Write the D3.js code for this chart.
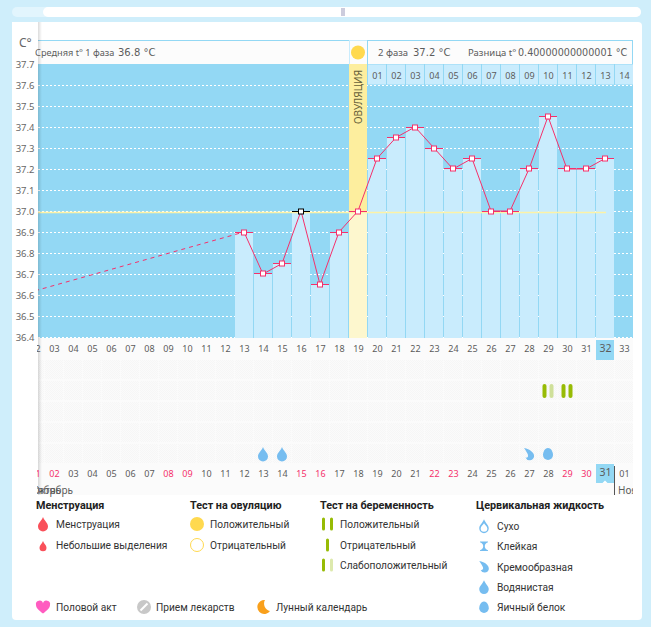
<!DOCTYPE html>
<html>
<head>
<meta charset="utf-8">
<script src="https://cdn.jsdelivr.net/npm/d3@7"></script>
<style>
body { margin: 0; background: #cfeefb; }
svg { display: block; }
text { font-family: "Noto Sans", sans-serif; fill: #5c5c5c; }
.lg text { font-family: Roboto, sans-serif; fill: #333; }
.axis path { display: none; }
.axis line { display: none; }
</style>
</head>
<body>
<div id="chart"></div>
<script>
// cycle days and temperatures
var cycleDays = [13, 14, 15, 16, 17, 18, 19, 20, 21, 22, 23, 24, 25, 26, 27, 28, 29, 30, 31, 32]
var temps = [36.9, 36.7, 36.75, 37.0, 36.65, 36.9, 37.0, 37.25, 37.35, 37.4, 37.3, 37.2, 37.25, 37.0, 37.0, 37.2, 37.45, 37.2, 37.2, 37.25]
var gapDays = [2, 13]
var gapTemps = [36.62, 36.9]
var blackDays = [16]
var ovulationDay = 19

var tempTicks = [37.7, 37.6, 37.5, 37.4, 37.3, 37.2, 37.1, 37.0, 36.9, 36.8, 36.7, 36.6, 36.5, 36.4]
var allDays = d3.range(2, 34)
var todayCycle = 32
var phaseDays = d3.range(20, 34)   // second phase, numbered from 01
var dateLabels = ["01", "02", "03", "04", "05", "06", "07", "08", "09", "10", "11", "12", "13", "14", "15", "16", "17", "18", "19", "20", "21", "22", "23", "24", "25", "26", "27", "28", "29", "30", "31", "01"]
var weekendDates = [0, 1, 7, 8, 14, 15, 21, 22, 28, 29]

// marks in the lower grid
var pregnancyDays = [29, 30]
var pregnancyTypes = ["weak", "positive"]
var fluidDays = [14, 15, 28, 29]
var fluidTypes = ["water", "water", "cream", "egg"]

var legendMens = ["Менструация", "Небольшие выделения"]
var legendOvul = ["Положительный", "Отрицательный"]
var legendPreg = ["Положительный", "Отрицательный", "Слабоположительный"]
var legendFluid = ["Сухо", "Клейкая", "Кремообразная", "Водянистая", "Яичный белок"]
var legendOther = ["Половой акт", "Прием лекарств", "Лунный календарь"]

var blue = "#93d8f4", pale = "#c9ecfd", red = "#f5306b", green = "#97bb05", fluidBlue = "#76bdf0"

var x = d3.scaleLinear().domain([13, 32]).range([244, 605])
var y = d3.scaleLinear().domain([36.4, 37.7]).range([337, 64])

var svg = d3.select("#chart").append("svg").attr("width", 651).attr("height", 627)
var defs = svg.append("defs")
defs.append("clipPath").attr("id", "plot").append("rect").attr("x", 38).attr("y", 40).attr("width", 595).attr("height", 300)
defs.append("clipPath").attr("id", "labels").append("rect").attr("x", 37).attr("y", 40).attr("width", 596).attr("height", 460)
defs.append("clipPath").attr("id", "head").append("rect").attr("x", 35).attr("y", 40).attr("width", 300).attr("height", 24)
defs.append("clipPath").attr("id", "month").append("rect").attr("x", 37).attr("y", 480).attr("width", 596).attr("height", 18)
var dither = defs.append("pattern").attr("id", "dither").attr("width", 2).attr("height", 2).attr("patternUnits", "userSpaceOnUse")
dither.append("rect").attr("width", 2).attr("height", 2).attr("fill", "#fbfbfb")
dither.append("rect").attr("width", 1).attr("height", 1).attr("fill", "#f6f6f6")
dither.append("rect").attr("x", 1).attr("y", 1).attr("width", 1).attr("height", 1).attr("fill", "#f6f6f6")

// page frame and scroll bar
svg.append("rect").attr("x", 12).attr("y", 7).attr("width", 629).attr("height", 10).attr("rx", 5).attr("fill", "#e2f5fd")
svg.append("rect").attr("x", 43).attr("y", 7).attr("width", 598).attr("height", 10).attr("rx", 5).attr("fill", "#fff")
svg.append("rect").attr("x", 341).attr("y", 8).attr("width", 4).attr("height", 8).attr("fill", "#ccd")
svg.append("rect").attr("x", 12).attr("y", 22).attr("width", 630).attr("height", 598).attr("rx", 4).attr("fill", "#fff")

// header strip
svg.append("rect").attr("x", 38).attr("y", 40.5).attr("width", 311).attr("height", 24).attr("fill", "#fcfcfc")
svg.append("line").attr("x1", 38).attr("x2", 349).attr("y1", 40.5).attr("y2", 40.5).attr("stroke", blue)
svg.append("rect").attr("x", 349.5).attr("y", 40.5).attr("width", 18).attr("height", 24).attr("fill", "#fcfcfc").attr("stroke", "#c9ecfd")
svg.append("rect").attr("x", 367.5).attr("y", 40.5).attr("width", 265).attr("height", 24).attr("fill", "#fcfcfc").attr("stroke", blue)
svg.append("circle").attr("cx", 358).attr("cy", 52.5).attr("r", 7).attr("fill", "#ffd94f")

// plot background, grid
svg.append("rect").attr("x", 38).attr("y", 64).attr("width", 595).attr("height", 274).attr("fill", blue)
svg.selectAll(".grid").data(tempTicks.slice(1)).enter().append("line")
    .attr("class", "grid")
    .attr("x1", 38).attr("x2", 633)
    .attr("y1", function (d) { return Math.round(y(d)) + 0.5 })
    .attr("y2", function (d) { return Math.round(y(d)) + 0.5 })
    .attr("stroke", "#fff").attr("stroke-dasharray", "2,2")

// second phase day row
svg.selectAll(".phase").data(phaseDays).enter().append("rect")
    .attr("class", "phase")
    .attr("x", function (d) { return x(d) - 9 })
    .attr("y", 64.5).attr("width", 18).attr("height", 20)
    .attr("fill", pale)

// bars
var barData = cycleDays.map(function (d, i) { return { day: d, t: temps[i] } })
svg.selectAll(".bar").data(barData.filter(function (d) { return d.day != ovulationDay })).enter().append("rect")
    .attr("class", "bar")
    .attr("x", function (d) { return x(d.day) - 9 })
    .attr("y", function (d) { return Math.floor(y(d.t)) })
    .attr("width", 18)
    .attr("height", function (d) { return 338 - Math.floor(y(d.t)) })
    .attr("fill", pale)

// ovulation column
svg.append("rect").attr("x", x(ovulationDay) - 9).attr("y", y(37.7)).attr("width", 18).attr("height", y(37) - y(37.7)).attr("fill", "#fdee9e")
svg.append("rect").attr("x", x(ovulationDay) - 9).attr("y", y(37)).attr("width", 18).attr("height", 338 - y(37)).attr("fill", "#fdf7ce")
svg.append("text").attr("transform", "translate(" + (x(ovulationDay) + 3.5) + ",97) rotate(-90)")
    .attr("text-anchor", "middle").attr("font-size", 10).style("fill", "#66603a").text("ОВУЛЯЦИЯ")

// 37.0 line
svg.append("line").attr("x1", 38).attr("x2", 606).attr("y1", y(37) + 1.5).attr("y2", y(37) + 1.5)
    .attr("stroke", "#fdf2a6").attr("stroke-width", 1.5)

// temperature line
var plot = svg.append("g").attr("clip-path", "url(#plot)")
var line = d3.line().x(function (d) { return x(d.day) }).y(function (d) { return y(d.t) })
plot.append("path")
    .datum(gapDays.map(function (d, i) { return { day: d, t: gapTemps[i] } }))
    .attr("d", line).attr("fill", "none").attr("stroke", red).attr("stroke-dasharray", "4,4")
plot.append("path").datum(barData).attr("d", line).attr("fill", "none").attr("stroke", red)

function markColor(d) { return blackDays.indexOf(d.day) >= 0 ? "#000" : red }
plot.selectAll(".tick-mark").data(barData).enter().append("line")
    .attr("class", "tick-mark")
    .attr("x1", function (d) { return x(d.day) - 9 })
    .attr("x2", function (d) { return x(d.day) + 9 })
    .attr("y1", function (d) { return Math.floor(y(d.t)) + 0.5 })
    .attr("y2", function (d) { return Math.floor(y(d.t)) + 0.5 })
    .attr("stroke", markColor).attr("stroke-width", 1)
plot.selectAll(".marker").data(barData).enter().append("rect")
    .attr("class", "marker")
    .attr("x", function (d) { return x(d.day) - 2.5 })
    .attr("y", function (d) { return Math.floor(y(d.t)) - 2 })
    .attr("width", 5).attr("height", 5)
    .attr("fill", "#fff").attr("stroke", markColor)

// lower grid
svg.append("rect").attr("x", 38).attr("y", 338).attr("width", 595).attr("height", 157).attr("fill", "#fbfbfb")
var rows = d3.range(5)
rows.forEach(function (r) {
    svg.selectAll(".cell" + r).data(allDays).enter().append("rect")
        .attr("class", "cell" + r)
        .attr("x", function (d) { return Math.max(38, x(d) - 9) })
        .attr("y", 360 + r * 21)
        .attr("width", function (d) { return d == 2 ? 6 : 18 })
        .attr("height", 19)
        .attr("fill", "url(#dither)")
})

// today highlights
svg.append("rect").attr("x", x(todayCycle) - 9).attr("y", 340).attr("width", 18).attr("height", 20).attr("fill", blue)
svg.append("rect").attr("x", x(todayCycle) - 9).attr("y", 464).attr("width", 18).attr("height", 19).attr("fill", blue)
svg.append("path").attr("d", "M602.5,483 L605,480.5 L607.5,483Z").attr("fill", "#fff")
svg.append("line").attr("x1", 614.5).attr("x2", 614.5).attr("y1", 466).attr("y2", 495).attr("stroke", "#555")

// pregnancy tests
pregnancyDays.forEach(function (d, i) {
    [-3.5, 3.5].forEach(function (off, k) {
        svg.append("rect").attr("x", x(d) + off - 2).attr("y", 384).attr("width", 4).attr("height", 14).attr("rx", 2)
            .attr("fill", pregnancyTypes[i] == "weak" && k == 1 ? "#cfe09a" : green)
    })
})

// cervical fluid icons
var icons = {
    water: "M0,-7 C1.5,-3 5,-1 5,2.5 A5,5 0 0 1 -5,2.5 C-5,-1 -1.5,-3 0,-7Z",
    cream: "M-5,-6 C1,-5 6,-1 5,3 A4.5,4.5 0 0 1 -3.5,3.5 C-2,4 -0.5,3 -1,1 C-1.5,-1 -3,-3 -5,-6Z",
    egg: "M0,-6 C3.5,-6 5,-1.5 5,1 A5,5 0 0 1 -5,1 C-5,-1.5 -3.5,-6 0,-6Z",
    sticky: "M-5,-6 H5 V-5 C2,-4 1,-2 1,0 C1,2 2,4 5,5 V6 H-5 V5 C-2,4 -1,2 -1,0 C-1,-2 -2,-4 -5,-5Z",
    drop: "M0,-7 C1.5,-3 5,-1 5,2.5 A5,5 0 0 1 -5,2.5 C-5,-1 -1.5,-3 0,-7Z M0,-3 C-1,-1 -3.5,0.5 -3.5,2.5 A3.5,3.5 0 0 0 3.5,2.5 C3.5,0.5 1,-1 0,-3Z"
}
svg.selectAll(".fluid").data(fluidDays).enter().append("path")
    .attr("class", "fluid")
    .attr("transform", function (d) { return "translate(" + x(d) + ",454)" })
    .attr("d", function (d, i) { return icons[fluidTypes[i]] })
    .attr("fill", fluidBlue)

// left white column with shadow
var shade = defs.append("linearGradient").attr("id", "shade")
shade.append("stop").attr("offset", 0).attr("stop-color", "#000").attr("stop-opacity", 0.14)
shade.append("stop").attr("offset", 1).attr("stop-color", "#000").attr("stop-opacity", 0)
svg.append("rect").attr("x", 12).attr("y", 22).attr("width", 26).attr("height", 473).attr("fill", "#fff")
svg.append("rect").attr("x", 38).attr("y", 22).attr("width", 4).attr("height", 473).attr("fill", "url(#shade)")

// axes
var axisY = d3.axisLeft(y).tickValues(tempTicks).tickFormat(d3.format(".1f")).tickPadding(4)
var gy = svg.append("g").attr("class", "axis").attr("transform", "translate(38,0)").call(axisY)
gy.selectAll("text").attr("x", -3.5).attr("font-size", 9.5).style("fill", "#666")
svg.append("text").attr("x", 19).attr("y", 47).attr("font-size", 12).style("fill", "#666").text("C°")

var labels = svg.append("g").attr("clip-path", "url(#labels)")
var axisTop = d3.axisBottom(x).tickValues(allDays).tickFormat(function (d) { return d < 10 ? "0" + d : d })
var gTop = labels.append("g").attr("class", "axis").attr("transform", "translate(0,345)").call(axisTop)
gTop.selectAll("text").attr("y", 0).attr("dy", "0.8em").attr("font-size", 9)
gTop.selectAll(".tick").filter(function (d) { return d == todayCycle }).select("text").attr("font-size", 10.5).attr("dy", "0.7em")

var axisPhase = d3.axisBottom(x).tickValues(phaseDays).tickFormat(function (d) { var n = d - 19; return n < 10 ? "0" + n : n })
var gPhase = labels.append("g").attr("class", "axis").attr("transform", "translate(0,75)").call(axisPhase)
gPhase.selectAll("text").attr("y", 0).attr("dy", "0.4em").attr("font-size", 9)

var axisDate = d3.axisBottom(x).tickValues(allDays).tickFormat(function (d) { return dateLabels[d - 2] })
var gDate = labels.append("g").attr("class", "axis").attr("transform", "translate(0,470)").call(axisDate)
gDate.selectAll("text").attr("y", 0).attr("dy", "0.8em").attr("font-size", 9)
    .style("fill", function (d) { return weekendDates.indexOf(d - 2) >= 0 ? "#f5306b" : "#5c5c5c" })
gDate.selectAll(".tick").filter(function (d) { return d == todayCycle }).select("text").attr("font-size", 10.5).attr("dy", "0.55em")

// month labels
var months = svg.append("g").attr("clip-path", "url(#month)")
months.append("text").attr("x", 73).attr("y", 494).attr("text-anchor", "end").attr("font-size", 10).text("Октябрь")
months.append("text").attr("x", 61).attr("y", 494).attr("text-anchor", "end").attr("font-size", 10).text("Сентябрь")
months.append("text").attr("x", 618).attr("y", 494).attr("font-size", 10).text("Ноябрь")

// header text
svg.append("text").attr("x", 35).attr("y", 56).attr("font-size", 9.2).attr("clip-path", "url(#head)").text("Средняя t° 1 фаза")
svg.append("text").attr("x", 118).attr("y", 56).attr("font-size", 10).style("font-family", "DejaVu Sans").text("36.8 °C")
svg.append("text").attr("x", 378).attr("y", 56).attr("font-size", 9.5).text("2 фаза")
svg.append("text").attr("x", 413).attr("y", 56).attr("font-size", 10).style("font-family", "DejaVu Sans").text("37.2 °C")
svg.append("text").attr("x", 468).attr("y", 56).attr("font-size", 9.5).text("Разница t°")
svg.append("text").attr("x", 518).attr("y", 56).attr("font-size", 9.6).style("font-family", "DejaVu Sans").text("0.40000000000001 °C")

// legend
var lg = svg.append("g").attr("class", "lg")
function heading(t, px) { lg.append("text").attr("x", px).attr("y", 509).attr("font-size", 10.8).attr("font-weight", 700).style("fill", "#222").text(t) }
function entry(t, px, py) { lg.append("text").attr("x", px).attr("y", py + 4).attr("font-size", 10.2).text(t) }
function icon(d, px, py, fill, scale) {
    lg.append("path").attr("transform", "translate(" + px + "," + py + ") scale(" + (scale || 1) + ")").attr("d", d).attr("fill", fill)
}
function pill(px, py, fill, h) { lg.append("rect").attr("x", px - 1.5).attr("y", py - h / 2).attr("width", 3).attr("height", h).attr("rx", 1.5).attr("fill", fill) }

heading("Менструация", 36)
heading("Тест на овуляцию", 190)
heading("Тест на беременность", 320)
heading("Цервикальная жидкость", 476)

legendMens.forEach(function (t, i) { entry(t, 56, 524 + i * 21) })
icon(icons.water, 43, 524, "#f9505a")
icon(icons.water, 43, 546, "#f9505a", 0.7)

legendOvul.forEach(function (t, i) { entry(t, 210, 524 + i * 21) })
lg.append("circle").attr("cx", 197).attr("cy", 524).attr("r", 7).attr("fill", "#ffd94f")
lg.append("circle").attr("cx", 197).attr("cy", 545).attr("r", 6.5).attr("fill", "#fff").attr("stroke", "#ffd94f")

legendPreg.forEach(function (t, i) { entry(t, 340, 524 + i * 20.5) })
pill(323.5, 524, green, 13); pill(331.5, 524, green, 13)
pill(327.5, 545, green, 13)
pill(323.5, 565, green, 13); pill(331.5, 565, "#dde9ad", 13)

var fluidIcons = ["drop", "sticky", "cream", "water", "egg"]
legendFluid.forEach(function (t, i) {
    var py = 526 + i * 20.3
    entry(t, 497, py)
    icon(icons[fluidIcons[i]], 484, py, fluidBlue, i == 1 ? 0.8 : 0.95)
})

entry(legendOther[0], 56, 607)
entry(legendOther[1], 156, 607)
entry(legendOther[2], 276, 607)
icon("M0,6.5 C-4,3.5 -7,1 -7,-2 A3.5,3.5 0 0 1 0,-3.5 A3.5,3.5 0 0 1 7,-2 C7,1 4,3.5 0,6.5Z", 43, 607, "#ff5cc0")
lg.append("circle").attr("cx", 144).attr("cy", 607).attr("r", 7).attr("fill", "#c8c8c8")
lg.append("line").attr("x1", 140.5).attr("x2", 147.5).attr("y1", 610.5).attr("y2", 603.5).attr("stroke", "#fff").attr("stroke-width", 2)
icon("M2,-7 A7,7 0 1 0 7,4 A7.5,7.5 0 0 1 2,-7Z", 263, 607, "#f9a01c")
</script>
</body>
</html>
